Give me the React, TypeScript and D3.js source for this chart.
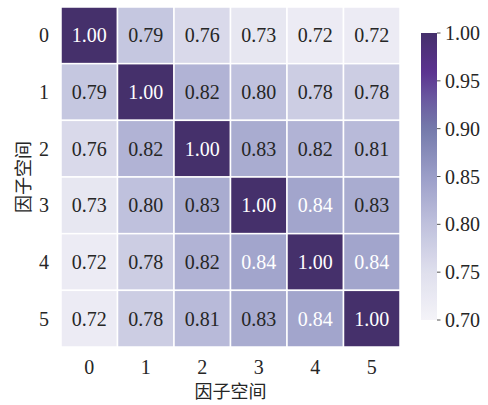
import React from "react";
import * as d3 from "d3";

const labels = ["0", "1", "2", "3", "4", "5"];
const matrix = [
  [1.0, 0.79, 0.76, 0.73, 0.72, 0.72],
  [0.79, 1.0, 0.82, 0.8, 0.78, 0.78],
  [0.76, 0.82, 1.0, 0.83, 0.82, 0.81],
  [0.73, 0.8, 0.83, 1.0, 0.84, 0.83],
  [0.72, 0.78, 0.82, 0.84, 1.0, 0.84],
  [0.72, 0.78, 0.81, 0.83, 0.84, 1.0],
];
const cbTicks = [0.7, 0.75, 0.8, 0.85, 0.9, 0.95, 1.0];
const colorStops = [0.7, 0.75, 0.8, 0.85, 0.9, 0.93, 0.96, 1.0];
const colorValues = ["#f4f3f8", "#dfdfed", "#bfc1dd", "#9b9ec8", "#747aab", "#6a5aa0", "#5b3290", "#45306b"];
const axisLabel = "因子空间";

const W = 488;
const H = 405;
const left = 61, right = 400, top = 7, bottom = 347;
const cbX = 421, cbW = 16, cbTop = 33, cbBottom = 320;
const serif = "Liberation Serif";
const cjk = "Noto Sans CJK SC";

export default function App() {
  const x = d3.scaleBand<string>().domain(labels).range([left, right]);
  const y = d3.scaleBand<string>().domain(labels).range([top, bottom]);
  const color = d3.scaleLinear<string>().domain(colorStops).range(colorValues).interpolate(d3.interpolateRgb).clamp(true);
  const cbY = d3.scaleLinear().domain([0.7, 1.0]).range([cbBottom, cbTop]);
  const gradStops = d3.range(0, 1.0001, 0.02);

  return (
    <svg width={W} height={H} style={{ position: "absolute", left: 0, top: 0 }}>
      <defs>
        <linearGradient id="cb" x1="0" y1="1" x2="0" y2="0">
          {gradStops.map((t) => (
            <stop key={t} offset={t} stopColor={color(0.7 + 0.3 * t)} />
          ))}
        </linearGradient>
      </defs>
      <rect width={W} height={H} fill="#fff" />
      {matrix.map((row, i) =>
        row.map((v, j) => (
          <g key={`${i}-${j}`}>
            <rect
              x={x(labels[j])!}
              y={y(labels[i])!}
              width={x.bandwidth()}
              height={y.bandwidth()}
              fill={color(v)}
              stroke="#fff"
              strokeWidth={1.5}
            />
            <text
              x={x(labels[j])! + x.bandwidth() / 2}
              y={y(labels[i])! + y.bandwidth() / 2}
              dy="0.35em"
              textAnchor="middle"
              style={{ fontFamily: serif }}
              fontSize={20}
              fill={v >= 0.835 ? "#fff" : "#262626"}
            >
              {v.toFixed(2)}
            </text>
          </g>
        ))
      )}
      {labels.map((l) => (
        <text key={"y" + l} x={49} y={y(l)! + y.bandwidth() / 2} dy="0.35em" textAnchor="end" style={{ fontFamily: serif }} fontSize={20} fill="#262626">
          {l}
        </text>
      ))}
      {labels.map((l) => (
        <text key={"x" + l} x={x(l)! + x.bandwidth() / 2} y={374} textAnchor="middle" style={{ fontFamily: serif }} fontSize={20} fill="#262626">
          {l}
        </text>
      ))}
      <text x={(left + right) / 2} y={398} textAnchor="middle" style={{ fontFamily: cjk }} fontSize={18} fill="#262626">
        {axisLabel}
      </text>
      <text
        transform={`translate(30, ${(top + bottom) / 2}) rotate(-90)`}
        textAnchor="middle"
        style={{ fontFamily: cjk }}
        fontSize={18}
        fill="#262626"
      >
        {axisLabel}
      </text>
      <rect x={cbX} y={cbTop} width={cbW} height={cbBottom - cbTop} fill="url(#cb)" />
      {cbTicks.map((t) => (
        <g key={"cb" + t}>
          <line x1={cbX + cbW} x2={cbX + cbW + 3.5} y1={cbY(t)} y2={cbY(t)} stroke="#262626" strokeWidth={0.8} />
          <text x={cbX + cbW + 8} y={cbY(t)} dy="0.35em" style={{ fontFamily: serif }} fontSize={20} fill="#262626">
            {t.toFixed(2)}
          </text>
        </g>
      ))}
    </svg>
  );
}
